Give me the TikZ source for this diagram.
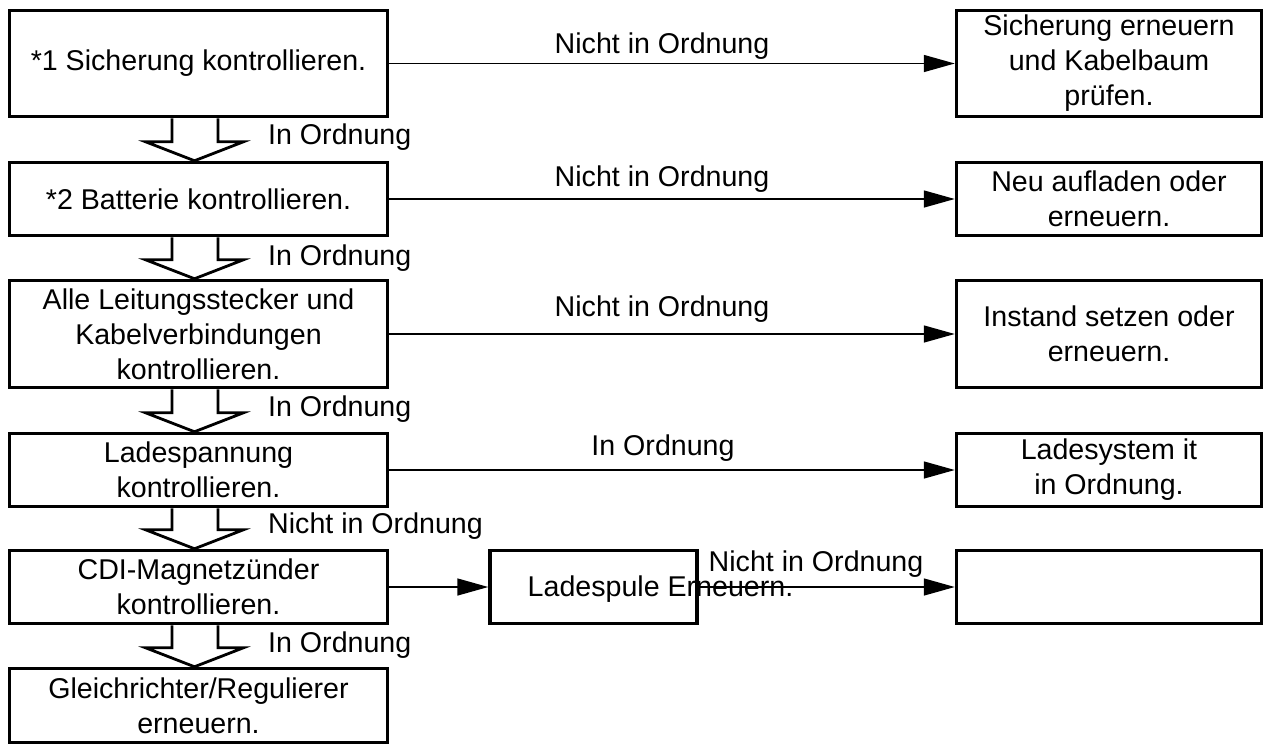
\documentclass[tikz,border=0pt]{standalone}
\usepackage{fontspec}
\setmainfont{Liberation Sans}
\usetikzlibrary{arrows.meta,calc}
\tikzset{
  box/.style={draw, line width=3.5pt, inner sep=0pt, align=center, font=\fontsize{28.6}{35}\selectfont},
  lbox/.style={box, minimum width=378pt},
  rbox/.style={box, minimum width=305pt},
  lbl/.style={inner sep=0pt, font=\fontsize{28.6}{35}\selectfont},
  conn/.style={line width=1.5pt, -{Triangle[length=31pt,width=17pt]}},
  hollow/.style={draw, line width=2.8pt, fill=white, line join=miter},
}
\newcommand{\hollowarrow}[2]{%
  \draw[hollow] let \p1=(#1.south), \p2=(#2.north) in
    (\x1-26.5pt,\y1) -- (\x1-26.5pt,\y2+19pt) -- (\x1-53pt,\y2+19pt) --
    (\x1-4pt,\y2) -- (\x1+45pt,\y2+19pt) -- (\x1+19.5pt,\y2+19pt) -- (\x1+19.5pt,\y1);}
\begin{document}
\begin{tikzpicture}[x=1pt,y=-1pt]
\useasboundingbox (0,0) rectangle (1271,745);
% left column
\node[lbox, minimum height=106pt] (L1) at (198.5,63.5) {*1 Sicherung kontrollieren.};
\node[lbox, minimum height=73pt] (L2) at (198.5,199) {*2 Batterie kontrollieren.};
\node[lbox, minimum height=107pt] (L3) at (198.5,334) {Alle Leitungsstecker und\\Kabelverbindungen\\kontrollieren.};
\node[lbox, minimum height=73pt] (L4) at (198.5,470) {Ladespannung\\kontrollieren.};
\node[lbox, minimum height=73pt] (L5) at (198.5,587) {CDI-Magnetzünder\\kontrollieren.};
\node[lbox, minimum height=74pt] (L6) at (198.5,705.5) {Gleichrichter/Regulierer\\erneuern.};
% right column
\node[rbox, minimum height=106pt] (R1) at (1109,63.5) {Sicherung erneuern\\und Kabelbaum\\prüfen.};
\node[rbox, minimum height=73pt] (R2) at (1109,199) {Neu aufladen oder\\erneuern.};
\node[rbox, minimum height=107pt] (R3) at (1109,334) {Instand setzen oder\\erneuern.};
\node[rbox, minimum height=73pt] (R4) at (1109,470) {Ladesystem it\\in Ordnung.};
\node[rbox, minimum height=73pt] (R5) at (1109,587) {};
% middle box
\node[box, minimum width=207pt, minimum height=73pt] (M) at (593.5,587) {};
\node[lbl] (Mt) at (660.5,589) {Ladespule Erneuern.};
% horizontal connectors
\draw[conn] (L1.east) -- (R1.west);
\draw[conn] (L2.east) -- (R2.west);
\draw[conn] (L3.east) -- (R3.west);
\draw[conn] (L4.east) -- (R4.west);
\draw[conn] (L5.east) -- (M.west);
\draw[conn] (M.east) -- (R5.west);
% horizontal labels
\node[lbl] (h1) at (662,46) {Nicht in Ordnung};
\node[lbl] (h2) at (662,179) {Nicht in Ordnung};
\node[lbl] (h3) at (662,309) {Nicht in Ordnung};
\node[lbl] (h4) at (663,448) {In Ordnung};
\node[lbl] (h5) at (816,564) {Nicht in Ordnung};
% hollow down arrows
\hollowarrow{L1}{L2}
\hollowarrow{L2}{L3}
\hollowarrow{L3}{L4}
\hollowarrow{L4}{L5}
\hollowarrow{L5}{L6}
% down labels
\node[lbl, anchor=west] (d1) at (268,137) {In Ordnung};
\node[lbl, anchor=west] (d2) at (268,258) {In Ordnung};
\node[lbl, anchor=west] (d3) at (268,409) {In Ordnung};
\node[lbl, anchor=west] (d4) at (268,526) {Nicht in Ordnung};
\node[lbl, anchor=west] (d5) at (268,645) {In Ordnung};
\end{tikzpicture}
\end{document}
